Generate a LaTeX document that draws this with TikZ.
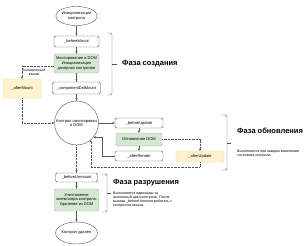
\documentclass[tikz,border=0pt]{standalone}
\usepackage{fontspec}
\setmainfont{Liberation Sans}
\usetikzlibrary{arrows.meta, positioning, calc, shapes.geometric}
\definecolor{lineC}{RGB}{85, 85, 85}
\definecolor{greenF}{RGB}{213, 232, 212}
\definecolor{greenD}{RGB}{150, 190, 130}
\definecolor{yellowF}{RGB}{255, 242, 204}
\definecolor{yellowD}{RGB}{240, 210, 140}
\newcommand{\lcfont}{\fontsize{4}{4.7}\selectfont}
\newcommand{\lcsmall}{\fontsize{3.6}{4.1}\selectfont}
\newcommand{\lcphase}{\fontsize{7.5}{9}\selectfont\bfseries}

\begin{document}
\begin{tikzpicture}[x=1pt, y=-1pt, font=\lcfont,
        b/.style={rectangle, rounded corners=1.5pt, draw=lineC, line width=0.4pt, fill=white,
                  align=center, inner sep=0.5pt},
        g/.style={b, draw=greenD, fill=greenF},
        yb/.style={b, draw=yellowD, fill=yellowF},
        oval/.style={ellipse, draw=lineC, line width=0.4pt, fill=white, align=center, inner sep=0pt},
        arr/.style={-{Stealth[length=2.4pt, width=2.2pt]}, line width=0.4pt, lineC},
        async/.style={arr, densely dotted},
        brc/.style={line width=0.4pt, lineC, rounded corners=1.5pt},
        phase/.style={anchor=west, font=\lcphase, inner sep=0pt},
        desc/.style={anchor=west, font=\lcsmall, align=left, inner sep=0pt}]
        \useasboundingbox (0,0) rectangle (308,246);

        % creation
        \node[oval, minimum width=40pt, minimum height=19pt] (init) at (76.5,16) {Инициализация\\контрола};
        \node[b, minimum width=45pt, minimum height=11pt] (bm) at (76.5,41.5) {\_beforeMount};
        \node[g, minimum width=45pt, minimum height=19pt] (mnt) at (76.5,63.5) {Монтирование в DOM\\Инициализация\\дочерних контролов};
        \node[b, minimum width=48pt, minimum height=12pt] (cdm) at (76.5,88) {\_componentDidMount};
        \node[yb, minimum width=38pt, minimum height=19pt] (am) at (22,88.5) {\_afterMount};
        \node[font=\lcsmall, align=center, inner sep=0pt] (asynclbl) at (34,72) {Асинхронный\\вызов};
        \node[circle, draw=lineC, line width=0.4pt, minimum size=44pt, inner sep=0pt, align=center] (mntd) at (76.5,123) {Контрол смонтирован\\в DOM};

        % update
        \node[b, minimum width=48pt, minimum height=10pt] (bu) at (139,123) {\_beforeUpdate};
        \node[g, minimum width=46pt, minimum height=13pt] (upd) at (139,139.5) {Обновление DOM};
        \node[b, minimum width=48pt, minimum height=10pt] (ar) at (139,156) {\_afterRender};
        \node[yb, minimum width=48pt, minimum height=11pt] (au) at (200,156.5) {\_afterUpdate};

        % destruction
        \node[b, minimum width=42pt, minimum height=9pt] (bum) at (76.5,177.5) {\_beforeUnmount};
        \node[g, minimum width=44pt, minimum height=22pt] (del) at (76.5,200) {Уничтожение\\экземпляра контрола.\\Удаление из DOM};
        \node[oval, minimum width=39pt, minimum height=22pt] (end) at (76.5,233) {Контрол удален};

        \draw[arr] (init) -- (bm);
        \draw[arr] (bm) -- (mnt);
        \draw[arr] (mnt) -- (cdm);
        \draw[arr] (cdm) -- (mntd);
        \draw[async] ($(mnt.west)+(0,2.5)$) -| (am.north);
        \draw[async] (am.south) |- (mntd.west);
        \draw[arr] (mntd.east) -- (bu.west);
        \draw[arr] (bu) -- (upd);
        \draw[arr] (upd) -- (ar);
        \draw[async] (upd.east) -| (au.north);
        \draw[arr] (ar.west) -| ($(mntd.-40)+(9,0)$) -- (mntd.-40);
        \draw[async] (au.south) |- ($(mntd.-50)+(0,27)$) -- (mntd.-50);
        \draw[async] (mntd) -- (bum);
        \draw[arr] (bum) -- (del);
        \draw[arr] (del) -- (end);

        % phase brackets
        \draw[brc] (107,33) -- (112,33) -- (112,95) -- (107,95);
        \draw[brc] (112,64) -- (117,64);
        \node[phase] (crt) at (122,64) {Фаза создания};

        \draw[brc] (222,115) -- (227,115) -- (227,170) -- (222,170);
        \draw[brc] (227,143) -- (231,143);
        \node[phase] (updt) at (237,131) {Фаза обновления};
        \node[desc] (updd) at (237,153.5) {Выполняется при каждом изменении\\состояния контрола.};

        \draw[brc] (102,174) -- (107,174) -- (107,212) -- (102,212);
        \draw[brc] (107,193) -- (111,193);
        \node[phase] (dst) at (113,183) {Фаза разрушения};
        \node[desc] (dstd) at (113,199.5) {Выполняется единожды за\\жизненный цикл контрола. После\\вызова \_beforeUnmount работать с\\контролом нельзя.};
    \end{tikzpicture}
\end{document}
